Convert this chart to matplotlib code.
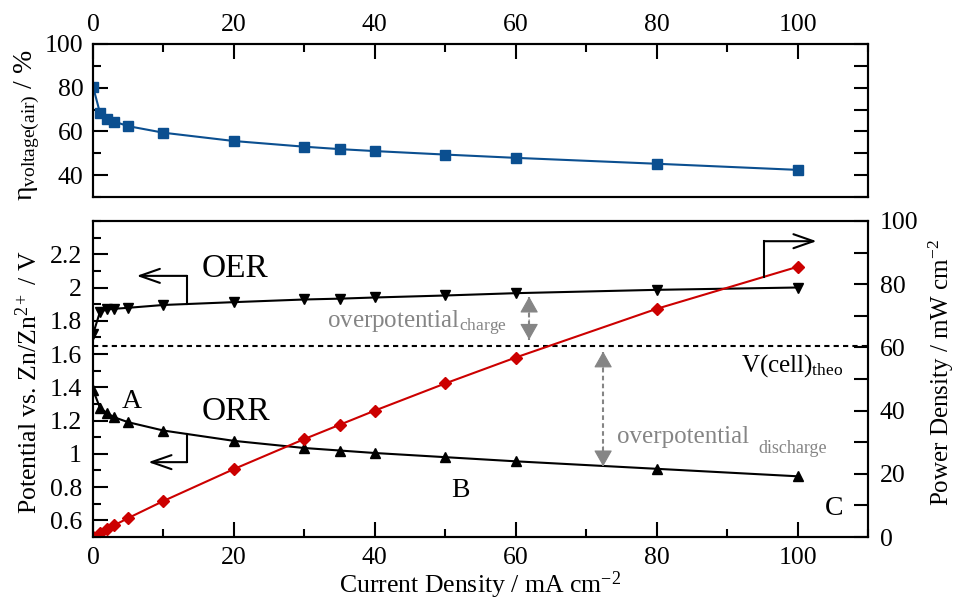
import matplotlib
matplotlib.use('Agg')
import matplotlib.pyplot as plt
from matplotlib.ticker import MultipleLocator, FuncFormatter, FixedLocator
from matplotlib.patches import ArrowStyle

plt.rcParams['font.family'] = ['Liberation Serif', 'DejaVu Serif']
plt.rcParams['mathtext.fontset'] = 'custom'
plt.rcParams['mathtext.rm'] = 'Liberation Serif'
plt.rcParams['mathtext.it'] = 'Liberation Serif:italic'
plt.rcParams['axes.linewidth'] = 1.5

# ---------------- data ----------------
current = [0, 1, 2, 3, 5, 10, 20, 30, 35, 40, 50, 60, 80, 100]
eta_voltage = [80.5, 68.3, 65.9, 64.5, 62.4, 59.4, 55.6, 53.0, 51.9, 51.0, 49.4, 47.9, 45.2, 42.4]
oer_potential = [1.72, 1.855, 1.868, 1.872, 1.878, 1.895, 1.912, 1.928, 1.933, 1.940, 1.952, 1.966, 1.986, 2.0]
orr_potential = [1.385, 1.275, 1.245, 1.22, 1.19, 1.14, 1.078, 1.035, 1.02, 1.005, 0.98, 0.955, 0.91, 0.865]
power_density = [0, 1.3, 2.5, 3.7, 6.0, 11.4, 21.5, 31.0, 35.5, 40.0, 48.6, 56.8, 72.2, 85.5]
v_cell_theo = 1.65
potential_ticks = [0.6, 0.8, 1.0, 1.2, 1.4, 1.6, 1.8, 2.0, 2.2]

BLUE = '#0b4f90'
RED = '#cc0000'
GRAY = '#858585'
TICK_FS = 18.5
LABEL_FS = 18.5

fig = plt.figure(figsize=(9.6, 6), dpi=100)
L, W = 0.0969, 0.8073
ax1 = fig.add_axes([L, 0.6717, W, 0.255])
ax2 = fig.add_axes([L, 0.105, W, 0.5267])

# ---------------- top panel ----------------
ax1.plot(current, eta_voltage, color=BLUE, lw=1.5, marker='s', ms=6.5)
ax1.set_xlim(0, 110)
ax1.set_ylim(30, 100)
ax1.xaxis.set_major_locator(MultipleLocator(20))
ax1.xaxis.set_minor_locator(MultipleLocator(10))
ax1.yaxis.set_major_locator(MultipleLocator(20))
ax1.yaxis.set_minor_locator(MultipleLocator(10))
ax1.tick_params(axis='x', which='both', direction='in', top=True, bottom=False,
                labeltop=True, labelbottom=False, width=1.5, labelsize=TICK_FS, pad=6)
ax1.tick_params(axis='y', which='both', direction='in', left=True, right=False,
                width=1.5, labelsize=TICK_FS, pad=7)
ax1.tick_params(which='major', length=10.5)
ax1.tick_params(which='minor', length=5.5)
ax1.set_ylabel(r'$\mathrm{η}_{\mathrm{voltage(air)}}$ / %', fontsize=20)
ax1.yaxis.set_label_coords(-0.066, 0.47)

ax1r = ax1.twinx()
ax1r.set_ylim(30, 100)
ax1r.yaxis.set_major_locator(MultipleLocator(10))
ax1r.tick_params(axis='y', direction='in', length=10, width=1.5, labelright=False)

# ---------------- bottom panel ----------------
ax2.plot(current, oer_potential, color='black', lw=1.5, marker='v', ms=7.5)
ax2.plot(current, orr_potential, color='black', lw=1.5, marker='^', ms=7.5)
ax2.axhline(v_cell_theo, color='black', lw=1.5, dashes=[2.5, 2])
ax2.set_xlim(0, 110)
ax2.set_ylim(0.5, 2.4)
ax2.xaxis.set_major_locator(MultipleLocator(20))
ax2.xaxis.set_minor_locator(MultipleLocator(10))
ax2.yaxis.set_major_locator(FixedLocator(potential_ticks))
ax2.yaxis.set_minor_locator(MultipleLocator(0.1))
ax2.yaxis.set_major_formatter(FuncFormatter(lambda v, p: '%g' % round(v, 2)))
ax2.tick_params(axis='x', which='both', direction='in', top=False, bottom=True,
                width=1.5, labelsize=TICK_FS, pad=7)
ax2.tick_params(axis='y', which='both', direction='in', left=True, right=False,
                width=1.5, labelsize=TICK_FS, pad=8)
ax2.tick_params(which='major', length=10.5)
ax2.tick_params(which='minor', length=5.5)
ax2.set_ylabel(r'Potential vs. Zn/Zn$^{2+}$ / V', fontsize=LABEL_FS)
ax2.yaxis.set_label_coords(-0.066, 0.49)
ax2.text(0.5, -0.176, r'Current Density / mA cm$^{\mathrm{-2}}$', transform=ax2.transAxes,
         ha='center', va='baseline', fontsize=LABEL_FS)

ax2r = ax2.twinx()
ax2r.plot(current, power_density, color=RED, lw=1.5, marker='D', ms=6.5)
ax2r.set_ylim(0, 100)
ax2r.yaxis.set_major_locator(MultipleLocator(20))
ax2r.yaxis.set_minor_locator(MultipleLocator(10))
ax2r.tick_params(axis='y', which='both', direction='in', length=10, width=1.5,
                 labelsize=TICK_FS, pad=8.5)
ax2r.set_ylabel(r'Power Density / mW cm$^{\mathrm{-2}}$', fontsize=18)
ax2r.yaxis.set_label_coords(1.076, 0.52)

# ---------------- annotations ----------------
open_head = ArrowStyle('->', head_length=0.8, head_width=0.28)
def bent_arrow(ax, x, y0, y1, x_end):
    ax.plot([x, x], [y0, y1], color='black', lw=1.5)
    ax.annotate('', xy=(x_end, y1), xytext=(x, y1),
                arrowprops=dict(arrowstyle=open_head, mutation_scale=18, lw=1.5,
                                color='black', shrinkA=0, shrinkB=0))

bent_arrow(ax2, 13.3, 1.90, 2.07, 6.2)
bent_arrow(ax2, 13.3, 1.118, 0.95, 7.85)
bent_arrow(ax2r, 95.3, 82.4, 93.6, 102.7)

head_style = ArrowStyle('-|>', head_length=0.6, head_width=0.34)
def gray_double_arrow(ax, x, ya, yb):
    ax.plot([x, x], [ya, yb], color=GRAY, lw=1.5, dashes=[2.2, 1.6])
    d = 0.12 if yb > ya else -0.12
    for tip, inner in [(ya, ya + d), (yb, yb - d)]:
        ax.annotate('', xy=(x, tip), xytext=(x, inner),
                    arrowprops=dict(arrowstyle=head_style, mutation_scale=17, lw=0.8,
                                    color=GRAY, shrinkA=0, shrinkB=0))

gray_double_arrow(ax2, 61.9, 1.945, 1.686)
gray_double_arrow(ax2, 72.4, 1.615, 0.925)

ax2.text(15.4, 2.064, 'OER', fontsize=24, va='baseline')
ax2.text(15.4, 1.201, 'ORR', fontsize=24, va='baseline')
ax2.text(4.1, 1.276, 'A', fontsize=20, va='baseline')
ax2.text(50.8, 0.743, 'B', fontsize=20, va='baseline')
ax2.text(103.9, 0.635, 'C', fontsize=20, va='baseline')
ax2.text(33.2, 1.757, r'overpotential$_{\mathrm{charge}}$', fontsize=18, color=GRAY, va='baseline')
ax2.text(74.4, 1.067, 'overpotential', fontsize=18, color=GRAY, va='baseline')
ax2.text(94.4, 1.007, 'discharge', fontsize=13, color=GRAY, va='baseline')
ax2.text(92.0, 1.495, r'V(cell)$_{\mathrm{theo}}$', fontsize=18, color='black', va='baseline')

fig.savefig('out.png', dpi=100)
